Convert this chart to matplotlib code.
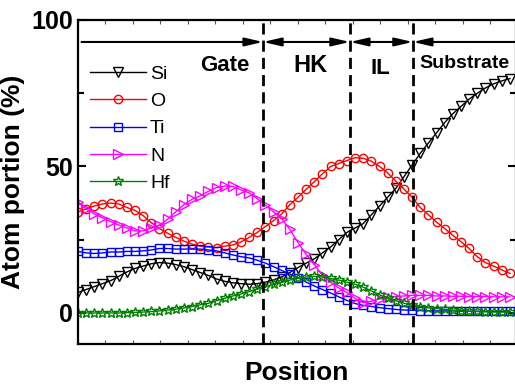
import numpy as np
import matplotlib
matplotlib.use("Agg")
import matplotlib.pyplot as plt
from matplotlib.ticker import MultipleLocator

plt.rcParams['font.family'] = ['Liberation Sans', 'DejaVu Sans']

# ---- data ----
si = [7, 8, 9, 10, 11, 12.5, 14, 15.2, 16, 16.8, 17.2, 17, 16.5, 15.8, 14.8, 13.8,
      12.8, 11.6, 10.8, 10.3, 10, 9.8, 10, 10.5, 11.3, 12.3, 13.8, 15.5, 17, 18.5,
      20.5, 22.5, 25, 27.5, 29, 30.5, 33.5, 36.5, 39.5, 42.5, 46.5, 50.5, 54.5, 58,
      61.5, 65, 68, 70.5, 73, 75, 76.8, 78.2, 79.2, 80]
o = [34.5, 35.5, 36.5, 37.2, 37.5, 37.2, 36, 35, 33.2, 30.8, 28.8, 27.2, 25.8, 24.5,
     23.5, 22.8, 22.5, 22.3, 22.8, 23.2, 24.2, 25.8, 27.5, 29.5, 31.5, 33.8, 37, 39.5,
     42.2, 44.8, 47.5, 50, 51, 52, 53, 52.8, 51.8, 50, 47.8, 45, 42.3, 39.5, 36, 33.5,
     31, 28.8, 26.5, 24.3, 22, 19.2, 17.2, 16, 14.7, 13.5]
ti = [21, 20.5, 20.3, 20.5, 20.8, 20.8, 21, 21, 21.2, 21.5, 22, 22, 21.8, 21.8, 21.8,
      21.8, 21.5, 21.2, 20.5, 19.8, 19.2, 18.8, 18, 17, 15.8, 14.5, 13.3, 12, 10.5, 9.2,
      8, 6.8, 5.5, 4.3, 3.2, 2.6, 2.2, 1.8, 1.5, 1.2, 1, 0.9, 0.8, 0.8, 0.7, 0.7, 0.7,
      0.6, 0.6, 0.6, 0.5, 0.5, 0.5, 0.5]
n = [38, 35.5, 33.8, 32.5, 31.2, 30, 29, 28, 28, 29, 30, 32, 34.5, 37, 38.8, 40, 41.5,
     42.8, 43.3, 43.2, 42, 41, 39, 36.8, 34.5, 32.2, 28.5, 24, 20, 16.5, 12.8, 10.5, 8.5,
     7, 5, 3.5, 4, 4.8, 5.3, 5.6, 5.8, 6, 6, 6, 5.8, 5.8, 5.7, 5.7, 5.6, 5.6, 5.6, 5.5,
     5.5, 5.5]
hf = [0, 0, 0, 0, 0, 0, 0.1, 0.2, 0.3, 0.5, 0.7, 1, 1.3, 1.7, 2.2, 2.8, 3.3, 4.2, 5,
      5.8, 6.5, 7.3, 8.2, 9, 9.8, 10.5, 11.2, 11.8, 12.3, 12.5, 12.3, 11.8, 11.2, 10.5,
      9.8, 8.8, 7.5, 6.2, 5, 4.2, 3.3, 2.7, 2.2, 1.8, 1.5, 1.2, 1, 0.8, 0.6, 0.5, 0.4,
      0.3, 0.3, 0.3]
step = 0.2964
position = np.arange(len(si)) * step
boundaries = [6.73, 9.89, 12.18]
region_labels = ["Gate", "HK", "IL", "Substrate"]
ytick_vals = [0, 50, 100]

fig = plt.figure(figsize=(5.15, 3.87), dpi=100)
ax = fig.add_axes([77.5 / 515, 1 - 344 / 387, (515.7 - 77.5) / 515, 324 / 387])

series = [
    (si, 'Si', 'black', 'v', 7),
    (o, 'O', 'red', 'o', 6),
    (ti, 'Ti', 'blue', 's', 5.5),
    (n, 'N', 'magenta', '>', 7),
    (hf, 'Hf', 'green', '*', 7),
]
for vals, lab, col, mk, ms in series:
    ax.plot(position, vals, color=col, marker=mk, ms=ms, mfc='none', mec=col,
            mew=1.0, lw=1.0, label=lab)

ax.set_xlim(-0.018, 15.92)
ax.set_ylim(-10.6, 100)

for b in boundaries:
    ax.axvline(b, color='black', lw=2, linestyle=(0, (4, 2.2)), zorder=5)

# arrows
ya = 92.5
def arrow(x0, x1, style):
    ax.annotate('', xy=(x1, ya), xytext=(x0, ya),
                arrowprops=dict(arrowstyle=style + ',head_length=1.08,head_width=0.25',
                                mutation_scale=10, lw=1.5, color='black',
                                shrinkA=0, shrinkB=0))
arrow(0.13, boundaries[0], '-|>')
arrow(boundaries[0], boundaries[1], '<|-|>')
arrow(boundaries[1], boundaries[2], '<|-|>')
arrow(boundaries[2], 15.92, '<|-')

ax.text(5.33, 84.5, region_labels[0], fontsize=16, fontweight='bold', ha='center', va='center')
ax.text(8.45, 84.5, region_labels[1], fontsize=17, fontweight='bold', ha='center', va='center')
ax.text(11.0, 83.5, region_labels[2], fontsize=16, fontweight='bold', ha='center', va='center')
ax.text(14.07, 85, region_labels[3], fontsize=14, fontweight='bold', ha='center', va='center')

ax.set_yticks(ytick_vals)
ax.set_yticklabels([str(v) for v in ytick_vals], fontsize=18, fontweight='bold')
ax.yaxis.set_minor_locator(MultipleLocator(25))
ax.xaxis.set_major_locator(MultipleLocator(1))
ax.tick_params(axis='x', which='both', direction='in', top=True, bottom=True,
               labelbottom=False, length=3, width=0.8, color='#555555')
ax.tick_params(axis='y', which='major', direction='in', left=True, right=True,
               length=6, width=1.5)
ax.tick_params(axis='y', which='minor', direction='in', left=True, right=True,
               length=4, width=1.5)
for sp in ax.spines.values():
    sp.set_linewidth(1.6)

ax.set_ylabel('Atom portion (%)', fontsize=19, fontweight='bold', labelpad=4)
ax.set_xlabel('Position', fontsize=19, fontweight='bold', labelpad=12)

leg = ax.legend(loc='upper left', bbox_to_anchor=(0.01, 0.885), frameon=False,
                fontsize=14, handlelength=2.9, handletextpad=0.2, labelspacing=0.5,
                borderpad=0.2, borderaxespad=0.2, numpoints=1)

fig.savefig('out.png', dpi=100)
